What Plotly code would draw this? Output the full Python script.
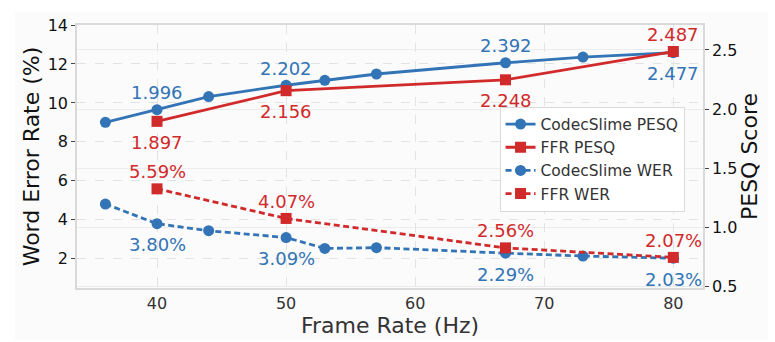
import plotly.graph_objects as go

# ---- data ----
cs_rate = [36, 40, 44, 50, 53, 57, 67, 73, 80]
cs_pesq = [1.889, 1.996, 2.106, 2.202, 2.244, 2.297, 2.392, 2.440, 2.477]
cs_wer = [4.81, 3.80, 3.44, 3.09, 2.53, 2.57, 2.29, 2.14, 2.03]

ffr_rate = [40, 50, 67, 80]
ffr_pesq = [1.897, 2.156, 2.248, 2.487]
ffr_wer = [5.59, 4.07, 2.56, 2.07]

x_ticks = [40, 50, 60, 70, 80]
wer_ticks = [2, 4, 6, 8, 10, 12, 14]
pesq_ticks = [0.5, 1.0, 1.5, 2.0, 2.5]

BLUE = "#3274B6"
RED = "#D12A2B"
FONT = "DejaVu Sans"

fig = go.Figure()

fig.add_trace(go.Scatter(x=cs_rate, y=cs_pesq, name="CodecSlime PESQ", yaxis="y2",
                         mode="lines+markers", line=dict(color=BLUE, width=2.8),
                         marker=dict(symbol="circle", size=11, color=BLUE)))
fig.add_trace(go.Scatter(x=ffr_rate, y=ffr_pesq, name="FFR PESQ", yaxis="y2",
                         mode="lines+markers", line=dict(color=RED, width=2.8),
                         marker=dict(symbol="square", size=11, color=RED)))
fig.add_trace(go.Scatter(x=cs_rate, y=cs_wer, name="CodecSlime WER", yaxis="y",
                         mode="lines+markers", line=dict(color=BLUE, width=2.8, dash="6px,3.5px"),
                         marker=dict(symbol="circle", size=11, color=BLUE)))
fig.add_trace(go.Scatter(x=ffr_rate, y=ffr_wer, name="FFR WER", yaxis="y",
                         mode="lines+markers", line=dict(color=RED, width=2.8, dash="6px,3.5px"),
                         marker=dict(symbol="square", size=11, color=RED)))

# value labels at the shared frame rates: the higher series labelled above, lower below
annotations = []
def add_labels(cs_vals, ffr_vals, yref, fmt):
    for r, fv in zip(ffr_rate, ffr_vals):
        cv = cs_vals[cs_rate.index(r)]
        for val, col, other in ((cv, BLUE, fv), (fv, RED, cv)):
            above = val >= other
            annotations.append(dict(
                x=r, y=val, xref="x", yref=yref, text=fmt.format(val),
                showarrow=False, font=dict(family=FONT, size=18, color=col),
                yshift=(17 if above else -21), xanchor="center", yanchor="middle"))

add_labels(cs_pesq, ffr_pesq, "y2", "{:.3f}")
add_labels(cs_wer, ffr_wer, "y", "{:.2f}%")

fig.update_layout(
    width=775, height=342,
    margin=dict(l=77, r=72, t=25, b=54),
    paper_bgcolor="white", plot_bgcolor="#fefefe",
    font=dict(family=FONT, size=16, color="#222222"),
    showlegend=True,
    legend=dict(x=0.675, y=0.69, xanchor="left", yanchor="top",
                bgcolor="white", bordercolor="#dadada", borderwidth=1,
                font=dict(family=FONT, size=15.5, color="#333333"),
                tracegroupgap=0, itemwidth=30),
    annotations=annotations,
    shapes=[dict(type="rect", xref="paper", yref="paper", x0=-0.099, x1=1.104,
                 y0=-0.198, y1=1.049, fillcolor="#fbfbfb", line=dict(width=0),
                 layer="below")],
    xaxis=dict(range=[33.8, 82.3], tickvals=x_ticks, ticks="", ticklabelstandoff=0,
               automargin=False,
               showgrid=True, gridcolor="#e3e3e3", griddash="dash", gridwidth=1,
               showline=True, linecolor="#d9d9d9", linewidth=1.5, mirror=True,
               zeroline=False, tickfont=dict(size=16, color="#333333"),
               title=dict(text="Frame Rate (Hz)", font=dict(size=22, color="#333333"), standoff=6)),
    yaxis=dict(range=[0.5, 14], tickvals=wer_ticks, ticks="outside", ticklen=4,
               tickcolor="#444444", tickwidth=1, automargin=False,
               showgrid=True, gridcolor="#e3e3e3", griddash="dash", gridwidth=1,
               showline=True, linecolor="#d9d9d9", linewidth=1.5, mirror=True,
               zeroline=False, tickfont=dict(size=16, color="#111111"),
               title=dict(text="Word Error Rate (%)", font=dict(size=22, color="#111111"), standoff=2)),
    yaxis2=dict(range=[0.489, 2.711], tickvals=pesq_ticks, tickformat=".1f",
                overlaying="y", side="right", ticks="outside", ticklen=4,
                tickcolor="#444444", tickwidth=1, automargin=False,
                showgrid=True, gridcolor="#ececec", gridwidth=1,
                showline=True, linecolor="#d9d9d9", linewidth=1.5,
                zeroline=False, tickfont=dict(size=16, color="#111111"),
                title=dict(text="PESQ Score", font=dict(size=22, color="#111111"), standoff=4)),
)

fig.write_html("out.html")
